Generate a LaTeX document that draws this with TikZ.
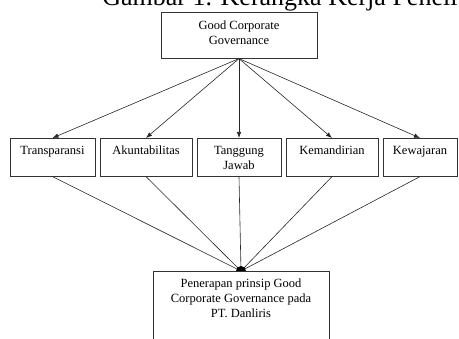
\documentclass[tikz,border=0pt]{standalone}
\usepackage{fontspec}
\setmainfont{Liberation Serif}
\usetikzlibrary{arrows.meta}
\tikzset{
  box/.style={draw=black!80, line width=0.6pt, anchor=north, inner sep=0pt,
    minimum width=#1, minimum height=38pt},
  txt/.style={anchor=north, align=center, inner sep=0pt, yshift=-8pt,
    font=\fontsize{12.5}{15}\selectfont},
}
\begin{document}
\begin{tikzpicture}[x=1pt, y=-1pt, line width=0.6pt]
      \useasboundingbox (0,0) rectangle (459,339);
      \draw
        (102,5.5) node[anchor=base west, inner sep=0pt,
          font=\fontsize{26}{30}\selectfont] (title){Gambar 1. Kerangka Kerja Penelitian}
        (239,12) node[box=156pt, minimum height=46pt,
          label={[txt, yshift=-1pt]north:Good Corporate\\Governance}] (gcg){}
        (52.5,138) node[box=85pt, label={[txt]north:Transparansi}] (t){}
        (146,138) node[box=92pt, label={[txt]north:Akuntabilitas}] (a){}
        (239,138) node[box=84pt, label={[txt]north:Tanggung\\Jawab}] (tj){}
        (332,138) node[box=92pt, label={[txt]north:Kemandirian}] (k){}
        (420,138) node[box=74pt, label={[txt]north:Kewajaran}] (kw){}
        (241,271) node[box=176pt, minimum height=80pt,
          label={[txt]north:Penerapan prinsip Good\\Corporate Governance pada\\PT. Danliris}] (gcgpt){};
      \begin{scope}[-{Latex[length=6pt,width=4.5pt]}, draw=black!85]
        \draw (gcg.south) to (t.north);
        \draw (gcg.south) to (a.north);
        \draw (gcg.south) to (tj.north);
        \draw (gcg.south) to (k.north);
        \draw (gcg.south) to (kw.north);
      \end{scope}
      \begin{scope}[-, draw=black!85]
        \draw (t.south) to (gcgpt.north);
        \draw (a.south) to (gcgpt.north);
        \draw (tj.south) to (gcgpt.north);
        \draw (k.south) to (gcgpt.north);
        \draw (kw.south) to (gcgpt.north);
      \end{scope}
      \fill ([xshift=-5pt]gcgpt.north) arc (180:0:5pt) -- cycle;
    \end{tikzpicture}
\end{document}
